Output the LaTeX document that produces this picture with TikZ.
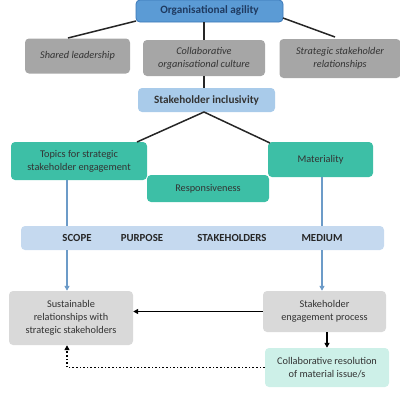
\documentclass[tikz,border=0pt]{standalone}
\usepackage{fontspec}
\setmainfont{Carlito}
\usetikzlibrary{arrows.meta}
\definecolor{oablue}{HTML}{5B9BD5}
\definecolor{oaborder}{HTML}{3A78B8}
\definecolor{navy}{HTML}{1F3A60}
\definecolor{ltblue}{HTML}{A9CBEA}
\definecolor{band}{HTML}{C5D9EF}
\definecolor{teal}{HTML}{3DBFA6}
\definecolor{gray1}{HTML}{A6A6A6}
\definecolor{gray2}{HTML}{D9D9D9}
\definecolor{ltteal}{HTML}{CDF0E8}
\definecolor{txt}{HTML}{333333}
\definecolor{lineblue}{HTML}{6C9BC8}
\tikzset{
  box/.style={rounded corners=4pt, inner sep=0pt, align=center, font=\fontsize{10.3}{12.8}\selectfont, text=txt},
  graybox/.style={box, fill=gray1, font=\fontsize{10.3}{12.8}\selectfont\itshape},
  tealbox/.style={box, fill=teal},
  lgbox/.style={box, fill=gray2},
  conn/.style={line width=1.5pt, black!85},
  bconn/.style={line width=1.5pt, lineblue},
  barrow/.style={bconn, -{Triangle[length=5pt,width=5pt]}},
  karrow/.style={line width=1.4pt, black, -{Triangle[length=5pt,width=5pt]}},
  dotarrow/.style={line width=1.6pt, black, dotted, -{Triangle[length=5pt,width=5pt]}},
  bandtext/.style={font=\fontsize{10.8}{12}\selectfont\bfseries, text=black!85}
}
\begin{document}
\begin{tikzpicture}[x=1pt,y=-1pt]
\useasboundingbox (0,0) rectangle (400,400);
% nodes
\node[box, fill=oablue, draw=oaborder, line width=0.8pt, minimum width=147pt, minimum height=22pt, font=\fontsize{11.2}{12}\selectfont\bfseries, text=navy] (oa) at (209.5,11) {Organisational agility};
\node[graybox, minimum width=105pt, minimum height=35pt] (sl) at (77.5,56) {Shared leadership};
\node[graybox, minimum width=122pt, minimum height=36pt] (coc) at (204,58) {Collaborative\\organisational culture};
\node[graybox, minimum width=121pt, minimum height=39pt] (ssr) at (340,58.5) {Strategic stakeholder\\relationships};
\node[box, fill=ltblue, minimum width=137pt, minimum height=24pt, font=\fontsize{11.2}{12}\selectfont\bfseries] (si) at (206.5,100) {Stakeholder inclusivity};
\node[tealbox, minimum width=136pt, minimum height=38pt] (top) at (79,161) {Topics for strategic\\stakeholder engagement};
\node[tealbox, minimum width=105pt, minimum height=35pt] (mat) at (320.5,159.5) {Materiality};
\node[tealbox, minimum width=122pt, minimum height=27pt] (resp) at (208,188.5) {Responsiveness};
\node[box, fill=band, minimum width=363pt, minimum height=24pt] (band) at (202.5,238) {};
\node[bandtext] (scope) at (77,238) {SCOPE};
\node[bandtext] (purp) at (142,238) {PURPOSE};
\node[bandtext] (stak) at (232,238) {STAKEHOLDERS};
\node[bandtext] (med) at (322,238) {MEDIUM};
\node[lgbox, minimum width=124pt, minimum height=54pt] (sus) at (71,318) {Sustainable\\relationships with\\strategic stakeholders};
\node[lgbox, minimum width=123pt, minimum height=41pt] (sep) at (324.5,311.5) {Stakeholder\\engagement process};
\node[box, fill=ltteal, minimum width=124pt, minimum height=39pt] (cr) at (327,367.5) {Collaborative resolution\\of material issue/s};
% connectors
\coordinate (oal) at (136,21);
\coordinate (oar) at (283,18);
\coordinate (slt) at (68,38);
\coordinate (ssrt) at (335,37);
\draw[conn] (oal) -- (slt);
\draw[conn] (oar) -- (ssrt);
\draw[conn] (oa.south -| coc.north) -- (coc.north);
\draw[conn] (coc.south) -- (coc.south |- si.north);
\coordinate (sib) at (204,112);
\coordinate (topt) at (137,142);
\coordinate (matt) at (270,143);
\draw[conn] (topt) -- (sib) -- (matt);
\draw[bconn] (67,180) coordinate (ta) -- (ta |- band.north);
\draw[barrow] (ta |- band.south) -- (ta |- sus.north);
\draw[bconn] (322,177) coordinate (ma) -- (ma |- band.north);
\draw[barrow] (ma |- band.south) -- (ma |- sep.north);
\draw[karrow] (sep.west) -- (sep.west -| sus.east);
\draw[karrow] (sep.south -| cr.north) -- (cr.north);
\draw[dotarrow] (cr.west) -- (cr.west -| ta) -- (ta |- sus.south);
\end{tikzpicture}
\end{document}
